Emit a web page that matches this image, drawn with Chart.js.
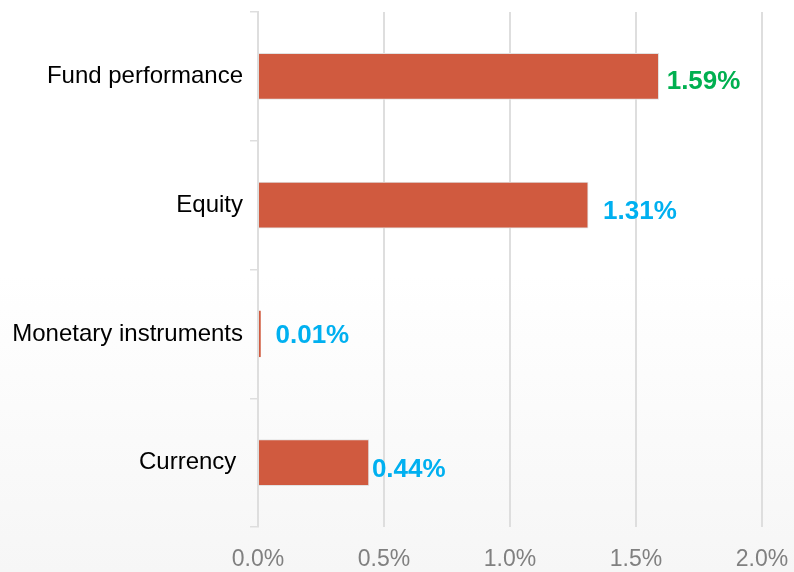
<!DOCTYPE html>
<html>
<head>
<meta charset="utf-8">
<script src="https://cdn.jsdelivr.net/npm/chart.js@4/dist/chart.umd.min.js"></script>
<style>
  html, body { margin: 0; padding: 0; }
  body { width: 794px; height: 572px; background: linear-gradient(to bottom, #ffffff 0%, #ffffff 48%, #f6f6f6 100%); }
  #wrap { position: relative; width: 794px; height: 572px; }
</style>
</head>
<body>
<div id="wrap"><canvas id="c" width="794" height="572"></canvas></div>
<script>
const categories = ["Fund performance", "Equity", "Monetary instruments", "Currency "];
const values = [1.59, 1.31, 0.01, 0.44];
const valueLabels = ["1.59%", "1.31%", "0.01%", "0.44%"];
const labelColors = ["#00b050", "#00b0f0", "#00b0f0", "#00b0f0"];
const xTicks = [0, 0.5, 1.0, 1.5, 2.0];

const FONT = "'Liberation Sans', Arial, sans-serif";

const valueLabelPlugin = {
  id: 'valueLabels',
  afterDatasetsDraw(chart, args, opts) {
    const ctx = chart.ctx;
    const meta = chart.getDatasetMeta(0);
    ctx.save();
    ctx.font = 'bold 26px ' + FONT;
    ctx.textAlign = 'left';
    ctx.textBaseline = 'middle';
    meta.data.forEach((el, i) => {
      ctx.fillStyle = labelColors[i];
      ctx.fillText(valueLabels[i], el.x + opts.dx[i], el.y + opts.dy[i]);
    });
    ctx.restore();
  }
};

new Chart(document.getElementById('c'), {
  type: 'bar',
  data: {
    labels: categories,
    datasets: [{
      data: values,
      backgroundColor: '#d05a3f',
      borderColor: ['#e2e2e2', '#e2e2e2', '#d05a3f', '#e2e2e2'],
      borderWidth: 1,
      barThickness: 46
    }]
  },
  options: {
    indexAxis: 'y',
    responsive: false,
    animation: false,
    devicePixelRatio: 1,
    layout: { padding: { top: 12, right: 32, left: 0, bottom: 0 } },
    plugins: {
      legend: { display: false },
      tooltip: { enabled: false },
      valueLabels: { dx: [8, 15, 15, 3], dy: [5, 7, 2, 7] }
    },
    scales: {
      x: {
        min: 0,
        max: 2.0,
        afterBuildTicks(axis) { axis.ticks = xTicks.map(v => ({ value: v })); },
        afterFit(axis) { axis.height = 45; axis.paddingLeft = 0; axis.paddingRight = 0; },
        grid: { color: '#dedede', lineWidth: 2, drawTicks: false },
        border: { display: false },
        ticks: {
          padding: 19,
          color: '#808080',
          font: { family: FONT, size: 23 },
          callback: v => Number(v).toFixed(1) + '%'
        }
      },
      y: {
        afterFit(axis) { axis.width = 258; axis.paddingTop = 0; axis.paddingBottom = 0; },
        grid: { drawOnChartArea: false, color: '#dedede', lineWidth: 1.5, tickLength: 8 },
        border: { display: true, color: '#dedede', width: 2 },
        ticks: {
          padding: 7,
          color: '#000000',
          font: { family: FONT, size: 24 }
        }
      }
    }
  },
  plugins: [valueLabelPlugin]
});
</script>
</body>
</html>
